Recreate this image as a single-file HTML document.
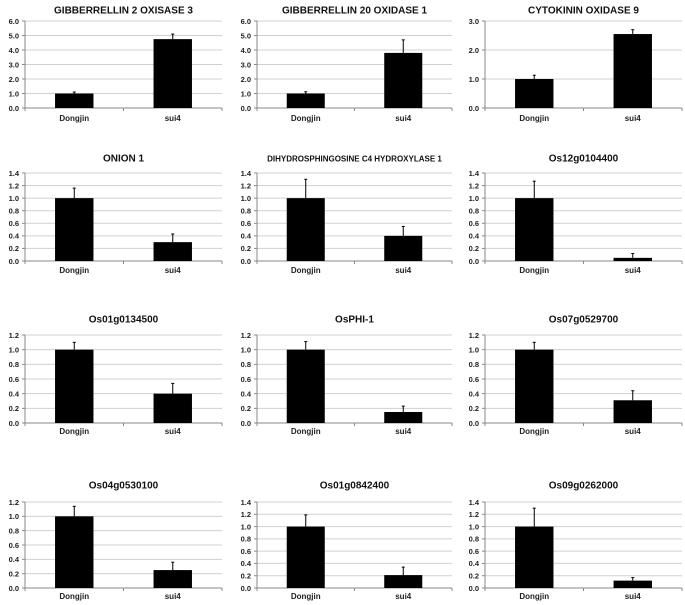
<!DOCTYPE html>
<html><head><meta charset="utf-8"><style>
html,body{margin:0;padding:0;background:#fff;width:685px;height:605px;overflow:hidden}
svg{display:block;font-family:"Liberation Sans",sans-serif}
</style></head><body>
<svg id="c" width="685" height="605" viewBox="0 0 685 605"></svg>
<script>
const titles=["GIBBERRELLIN 2 OXISASE 3","GIBBERRELLIN 20 OXIDASE 1","CYTOKININ OXIDASE 9","ONION 1","DIHYDROSPHINGOSINE C4 HYDROXYLASE 1","Os12g0104400","Os01g0134500","OsPHI-1","Os07g0529700","Os04g0530100","Os01g0842400","Os09g0262000"];
const categories=["Dongjin","sui4"];
const dongjinValues=[1.0,1.0,1.0,1.0,1.0,1.0,1.0,1.0,1.0,1.0,1.0,1.0];
const sui4Values=[4.75,3.8,2.55,0.3,0.4,0.05,0.4,0.15,0.31,0.25,0.21,0.12];
const dongjinErr=[0.1,0.12,0.13,0.16,0.3,0.27,0.1,0.11,0.1,0.14,0.19,0.3];
const sui4Err=[0.35,0.9,0.15,0.13,0.15,0.07,0.14,0.08,0.13,0.11,0.13,0.05];
const yMax=[6,6,3,1.4,1.4,1.4,1.2,1.2,1.2,1.2,1.4,1.4];
const yStep=[1,1,1,0.2,0.2,0.2,0.2,0.2,0.2,0.2,0.2,0.2];

const NS="http://www.w3.org/2000/svg";
const svg=document.getElementById('c');
const colX=[[25,222],[257,452],[485,682]];
const rowY=[[21,108,10,121],[173,261,158,273],[335,423,319,434],[502,588,485,599]];
function mk(tag,attrs,parent){const e=document.createElementNS(NS,tag);for(const k in attrs)e.setAttribute(k,attrs[k]);(parent||svg).appendChild(e);return e;}
for(let i=0;i<12;i++){
  const r=Math.floor(i/3),c=i%3;
  const [x0,x1]=colX[c];const [yt,yb,ty,ly]=rowY[r];
  const g=mk('g',{});
  
  
  const ys=v=>yb-(v/yMax[i])*(yb-yt);
  const cw=(x1-x0)/categories.length;
  const xs=k=>x0+cw*(k+0.5);
  const n=Math.round(yMax[i]/yStep[i]);
  for(let t=0;t<=n;t++){
    const v=t*yStep[i],y=ys(v);
    if(t>0){const gl=mk('line',{x1:x0,x2:x1,y1:y,y2:y,stroke:'#d0d0d0','stroke-width':1},g);
      }
    const tk=mk('line',{x1:x0-3,x2:x0,y1:y,y2:y,stroke:'#888','stroke-width':1},g);
    
    const tl=mk('text',{x:x0-6,y:y+2.8,'text-anchor':'end','font-size':'7.5','font-weight':'bold',fill:'#222'},g);
    tl.textContent=v.toFixed(1);
    
  }
  const ya=mk('line',{x1:x0,x2:x0,y1:yt,y2:yb,stroke:'#888','stroke-width':1},g);
  
  const xa=mk('line',{x1:x0,x2:x1,y1:yb,y2:yb,stroke:'#888','stroke-width':1},g);
  
  for(let t=0;t<=2;t++){const xt=mk('line',{x1:x0+cw*t,x2:x0+cw*t,y1:yb,y2:yb+3,stroke:'#888'},g);
    }
  const vals=[dongjinValues[i],sui4Values[i]],errs=[dongjinErr[i],sui4Err[i]];
  const bw=cw*0.39;
  for(let k=0;k<2;k++){
    const cx=xs(k),top=ys(vals[k]);
    const e=mk('line',{x1:cx,x2:cx,y1:ys(vals[k]+errs[k]),y2:top,stroke:'#000','stroke-width':1},g);
    
    const ec=mk('line',{x1:cx-1.5,x2:cx+1.5,y1:ys(vals[k]+errs[k]),y2:ys(vals[k]+errs[k]),stroke:'#000','stroke-width':1},g);
    
    const b=mk('rect',{x:cx-bw/2,y:top,width:bw,height:yb-top,fill:'#000'},g);
    
    const xl=mk('text',{x:cx,y:ly,'text-anchor':'middle','font-size':'8','font-weight':'bold',fill:'#222'},g);
    xl.textContent=categories[k];
    
  }
  const tt=mk('text',{x:(x0+x1)/2,y:ty+3.5,'text-anchor':'middle','font-size':i==4?'8':'10','font-weight':'bold',fill:'#111'},g);
  tt.textContent=titles[i];
  
}
</script>
</body></html>
